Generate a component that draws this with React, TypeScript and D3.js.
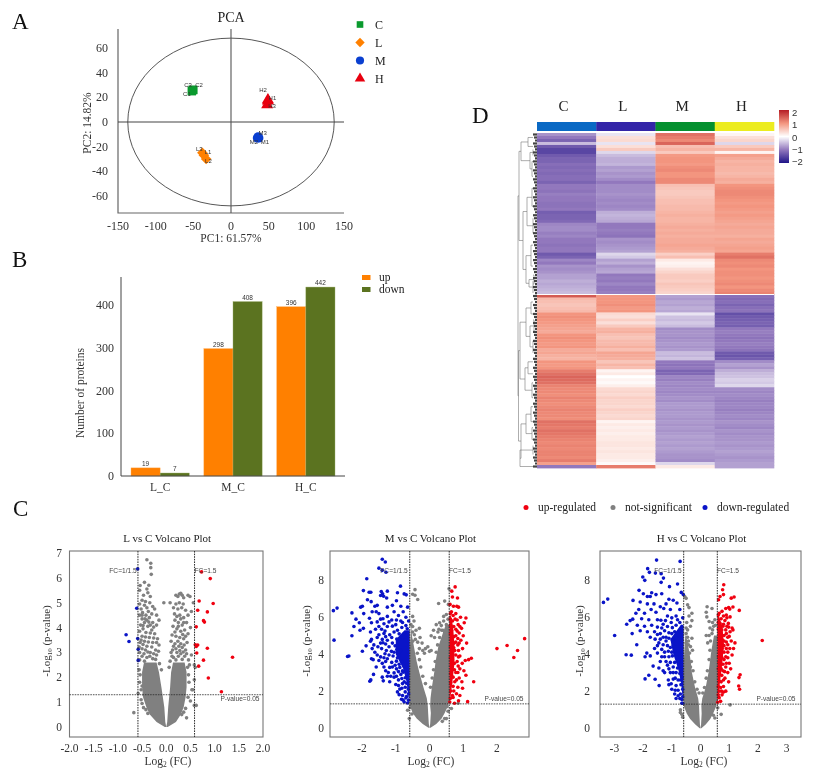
import React from "react";
import * as d3 from "d3";

const SERIF = "'Liberation Serif', serif";
const SANS = "'Liberation Sans', sans-serif";

// ---------- PCA ----------
const pcaGroups = ["C", "L", "M", "H"];
const pcaColors = ["#0a9a2e", "#ff8000", "#0a3fd0", "#e8000f"];
const pcaSamples: [string, number, number, number, number, number][] = [
  ["C1", -52, 25, -58.5, 22.7, 0], ["C2", -50, 26, -42.5, 30, 0], ["C3", -51, 26, -57, 30, 0],
  ["L1", -36, -27, -30.5, -24, 1], ["L2", -33, -30, -30, -32, 1], ["L3", -38, -25, -42, -22, 1],
  ["M1", 37, -13, 45, -16.5, 2], ["M2", 35, -13, 30.5, -16.5, 2], ["M3", 36, -12, 42, -9, 2],
  ["H1", 49, 18, 55, 19.5, 3], ["H2", 49, 17, 42.5, 26, 3], ["H3", 48, 14, 54.5, 13, 3],
];
const pcaXTicks = [-150, -100, -50, 0, 50, 100, 150];
const pcaYTicks = [-60, -40, -20, 0, 20, 40, 60];
const pcaEllipse = [137, 68];

// ---------- Bars ----------
const barCats = ["L_C", "M_C", "H_C"];
const barUp = [19, 298, 396];
const barDown = [7, 408, 442];
const barTicks = [0, 100, 200, 300, 400];

// ---------- Heatmap ----------
const heatCols = ["C", "L", "M", "H"];
const heatColColors = ["#0a69c4", "#3325a8", "#05902f", "#ecec20"];
const heatC = [-.8,-1,-1.2,-.5,-1.3,-1.5,-1.5,-1.3,-1.2,-1.2,-1.1,-1.15,-1.1,-1.15,-1.1,-1.1,-1.2,-1,-1,-1.05,-.95,-1,-1,-1.05,-1.05,-1,-1.25,-1.2,-1.2,-1.15,-.9,-.85,-.85,-.95,-.9,-1,-1,-1.05,-1,-1,-1.3,-1.2,-.9,-1,-.8,-.85,-.8,-.7,-.7,-.6,-.65,-.6,-.55,-.5,
1.5,.65,.6,.55,.6,.65,1,1.05,1,.95,.9,.85,.8,1,1.05,1,.95,1,.8,.85,.75,.7,1,.95,1,1.2,1.3,1.4,1.35,1.3,1.15,1.1,1.1,1.05,1.15,1.1,1.05,1.1,1.15,1.1,1.1,1.05,1.3,1.25,1.2,1.3,1.25,1.2,1.15,1.1,1.15,1.1,1.15,1.15,1.1,1.2,.9,-1];
const heatL = [-.2,.3,.35,-.2,.3,.5,-.3,-.5,-.6,-.6,-.55,-.75,-.7,-.8,-.75,-.85,-1,-.85,-.85,-.85,-.8,-.85,-.9,-.85,-.9,-.85,-.6,-.55,-.6,-.65,-1,-1,-.95,-1,-1.05,-.8,-.85,-.8,-.75,-.7,-.3,-.4,-.7,-.6,-.8,-.7,-.65,-1,-.95,-1,-.9,-1,-1,-.95,
1,1,1,1.05,.95,1,.35,.3,.45,.3,.5,.7,.75,.6,.55,.65,.65,.75,.6,.85,.8,.75,.55,.7,.6,.1,.2,0,.1,.05,.15,.35,.4,.35,.45,.4,.4,.35,.45,.4,.35,.4,.1,.2,.15,.2,.15,.2,.2,.25,.25,.2,.25,.2,.2,.15,.05,1.2];
const heatM = [1.3,1.2,1.1,1.4,.6,.7,.5,.95,1,1,.95,1.05,1.1,1,1,1.1,1.1,.6,.55,.5,.5,.55,.6,.6,.65,.65,.7,.75,.7,.7,.75,.8,.75,.8,.75,.8,.8,.85,.8,.75,.45,.6,.2,.1,.15,.3,.4,.5,.5,.45,.55,.5,.45,.4,
-.7,-.75,-.65,-.7,-.6,-.65,-.2,-.45,-.5,-.4,-.5,-.85,-.8,-.8,-.85,-.8,-.75,-.8,-.75,-.5,-.55,-.45,-1,-1.05,-1,-1.2,-1.15,-.9,-.95,-.85,-.9,-.85,-.9,-.85,-.8,-.85,-.75,-.75,-.8,-.75,-.75,-.8,-.75,-.8,-.75,-.8,-.75,-.7,-.75,-.7,-.75,-.7,-.75,-.8,-.8,-.85,-.3,.2];
const heatH = [.1,.3,.4,-.3,.5,.7,.1,.9,.8,.7,.75,.7,.7,.65,.7,.8,.75,1,1.05,1.1,1.1,1.05,1,.95,1,.95,.9,.95,.9,.85,.8,.85,.8,.8,.75,.85,.8,.85,.9,.85,1.2,1.3,1.1,1.05,1.1,1,1.05,1.05,1,1.05,1.1,1,1.1,1.15,
-1.1,-1.15,-1.1,-1.2,-1.1,-1.05,-1.4,-1.3,-1.25,-1.2,-1.25,-1,-.95,-1,-1.05,-1,-.95,-1,-1.05,-1.3,-1.35,-1.25,-.85,-.7,-.8,-.6,-.5,-.45,-.35,-.4,-.3,-.85,-.9,-.85,-.9,-.95,-.9,-.9,-.95,-.9,-.85,-.9,-.8,-.85,-.9,-.8,-.85,-.8,-.8,-.75,-.8,-.75,-.7,-.75,-.8,-.75,-.7,-.7];
const heatScaleTicks = [2, 1, 0, -1, -2];
type Tree = number | [number, Tree, Tree];
const heatTree: Tree = [19,
  [18, [16, [9, 1, 4], [7, [4, 5, 7], [5, 9, 14]]], [14, [10, [5, 18, 24], [4, 28, 33]], [11, [6, 37, 44], [8, [3, 47, 50], [4, 49, 53]]]]],
  [18.5, [17, [11, [6, 56, 60], [7, [3, 62, 66], [4, 69, 73]]], [12, [9, 76, 80], [5, 83, 88]]], [16, [11, [6, 91, 96], [5, 98, 102]], [17, [4, 104, 107], 111]]]];

// ---------- Volcano plots ----------
type Pt = [number, number];
const v1Up: Pt[] = [[.73,6.24],[.91,5.97],[.68,5.07],[.97,4.97],[.65,4.7],[.85,4.63],[.77,4.28],[.79,4.22],[.62,4.03],[.6,3.31],[.65,3.3],[.62,3.24],[.85,3.17],[.63,2.98],[1.37,2.81],[.77,2.69],[.67,2.45],[.87,1.97],[1.14,1.42]];
const v1Down: Pt[] = [[-.59,6.36],[-.61,4.78],[-.83,3.71],[-.77,3.44],[-.59,3.56],[-.58,3.13],[-.58,2.68]];
const v1Grey: Pt[] = [[-.4,6.73],[-.32,6.59],[-.32,6.41],[-.31,6.14],[-.45,5.82],[-.36,5.7],[-.54,5.69],[-.4,5.55],[-.55,5.5],[-.38,5.4],[-.47,5.3],[-.33,5.25],[-.5,5.1],[-.43,5.05],[-.34,5],[-.55,4.95],[-.45,4.9],[-.28,4.85],[-.52,4.75],[-.4,4.8],[-.24,4.75],[-.49,4.6],[-.37,4.65],[-.55,4.5],[-.42,4.5],[-.3,4.55],[-.2,4.5],[-.5,4.35],[-.35,4.4],[-.15,4.3],[-.45,4.2],[-.28,4.2],[-.53,4.1],[-.38,4.05],[-.2,4.1],[-.48,3.95],[-.3,3.9],[-.55,3.85],[-.42,3.8],[-.24,3.75],[-.5,3.65],[-.35,3.6],[-.18,3.55],[-.45,3.45],[-.28,3.4],[-.54,3.4],[-.15,3.3],[-.4,3.25],[-.5,3.15],[-.22,3.1],[-.33,3],[-.46,2.95],[-.55,3],[-.2,2.9],[-.28,2.75],[-.4,2.8],
[-.44,4.35],[-.36,4.22],[-.26,4.02],[-.48,4.08],[-.33,3.78],[-.43,3.62],[-.26,3.58],[-.52,3.5],[-.37,3.42],[-.2,3.4],[-.48,3.32],[-.3,3.22],[-.43,3.1],[-.56,3.22],[-.26,2.95],[-.38,3.02],[-.5,2.85],[-.34,2.85],[-.55,2.7],[-.45,2.65],[-.22,2.72],[-.16,3.05],[-.33,4.1],[-.4,4.3],[-.5,4.5],
[.27,5.35],[.3,5.38],[.33,5.3],[.2,5.3],[.24,5.25],[.36,5.2],[.45,5.3],[.49,5.25],[.08,5],[.2,4.95],[.27,5],[.35,4.95],[.56,5],[.15,4.8],[.24,4.75],[.32,4.8],[.4,4.7],[.52,4.65],[.17,4.55],[.28,4.5],[.36,4.4],[.45,4.5],[.18,4.3],[.25,4.2],[.33,4.1],[.42,4.2],[.5,4],[.14,4.05],[.22,3.95],[.3,3.85],[.38,3.9],[.45,3.75],[.12,3.7],[.2,3.65],[.28,3.6],[.36,3.55],[.43,3.4],[.1,3.45],[.18,3.35],[.26,3.25],[.33,3.2],[.4,3.1],[.13,3.1],[.22,3],[.3,2.95],[.38,2.85],[.52,2.9],[.58,2.5],[.6,2.4],[.58,1.9],[.53,1.5],[.55,1.5],[.58,.87],[.62,.87],[.15,2.8],[.46,2.7],
[.22,4.45],[.3,4.35],[.36,4.2],[.25,4.05],[.18,3.82],[.34,3.72],[.4,3.65],[.24,3.45],[.3,3.35],[.15,3.25],[.37,3.3],[.2,3.15],[.28,3.08],[.35,3.02],[.1,3.0],[.25,2.85],[.42,2.95],[.2,2.7],[.33,2.72],[.48,2.5],[.44,2.4],[.12,2.85],
[-.67,.58],[.42,.37],[-.58,1.35],[-.52,1.1],[-.5,.95],[-.47,.78],[.45,1.2],[.4,.75],[.5,1.05],[-.56,2.3],[-.55,1.8],[-.05,5],
[-.1,2.3],[-.14,2.55],[-.46,1.3],[-.42,.7],[-.38,.55],[.36,.6],[.32,.5],[-.5,1.65],[.47,1.8],[.46,2.1],[-.54,2.1],[-.52,1.5],[.06,2.4],[.08,2.65]];
const v1Levels = [0, .2, .5, .8, 1.2, 1.6, 2.2, 2.6];
const v1LeftOuter = [-.03, -.2, -.34, -.41, -.48, -.5, -.5, -.46];
const v1LeftInner = [0, -.02, -.03, -.04, -.07, -.1, -.15, -.2];
const v1RightInner = [0, .02, .03, .04, .06, .08, .1, .14];
const v1RightOuter = [.03, .2, .3, .36, .4, .42, .42, .38];

const v2Up: Pt[] = [[.76,7.65],[.66,7.42],[.68,7.1],[.83,7.05],[.61,6.7],[.71,6.6],[.81,6.6],[.86,6.55],[.65,6.3],[.92,6],[1.08,5.96],[.76,5.9],[.62,5.9],[1.03,5.7],[.85,5.6],[.72,5.5],[.95,5.4],[.65,5.3],[.88,5.15],[1,5],[.78,5],[.93,4.75],[1.1,4.6],[.84,4.5],[.98,4.3],[.75,4.2],[1.24,3.78],[1.16,3.7],[1.06,3.65],[.9,3.9],[.97,3.5],[.82,3.6],[.9,3.2],[1.02,3.1],[.78,3],[1.08,2.85],[.88,2.7],[.96,2.5],[1.31,2.5],[.75,2.5],[.84,2.2],[.98,2.15],[.72,2],[.8,1.85],[.9,1.75],[.7,1.65],[1.13,1.42],[.86,1.47],[.74,1.33],[.6,1.4],[.68,3.7],[.73,4.6],[.82,5.25],[.7,6.1],
[.62,6.2],[.78,6.2],[.68,5.8],[.82,5.85],[.62,5.55],[.78,5.35],[.9,5.5],[.62,5.1],[.72,4.95],[.84,4.85],[.65,4.75],[.78,4.65],[.88,4.6],[.62,4.4],[.72,4.35],[.86,4.2],[.66,4.05],[.78,3.95],[.86,3.85],[.62,3.8],[.74,3.5],[.85,3.35],[.65,3.3],[.74,3.15],[.84,3],[.63,2.95],[.7,2.75],[.8,2.6],[.63,2.45],[.7,2.25],[.63,2],[.68,1.75],[.62,1.6],
[2,4.3],[2.3,4.47],[2.61,4.2],[2.5,3.82],[2.82,4.84]];
const v2Down: Pt[] = [[-1.4,9.15],[-1.31,9],[-1.5,8.67],[-1.4,8.55],[-1.29,8.45],[-1.86,8.09],[-.86,7.69],[-1.96,7.45],[-1.79,7.36],[-1.74,7.36],[-1.43,7.4],[-1.25,7.42],[-1.39,7.28],[-1.45,7.18],[-1.36,7.14],[-1.27,7.05],[-.95,7.33],[-.75,7.27],[-.69,7.22],[-.98,6.9],[-1.84,6.95],[-1.73,6.85],[-1.62,6.6],[-2.85,6.36],[-2.74,6.5],[-2.3,6.24],[-2.04,6.55],[-1.99,6.6],[-1.55,6.65],[-1.1,6.65],[-.85,6.6],[-1.25,6.55],[-.65,6.55],[-1.95,6.2],[-1.7,6.3],[-1.5,6.2],[-1.58,6.3],[-1.05,6.3],[-.78,6.3],[-2.18,5.9],[-2.08,5.7],[-1.78,5.95],[-1.45,5.9],[-1.25,6.05],[-.92,6.1],[-.7,6],[-2.24,5.5],[-1.72,5.7],[-1.55,5.75],[-1.35,5.65],[-1.12,5.85],[-.85,5.8],[-2.3,5],[-2.83,4.76],[-2.06,5.3],[-1.96,5.4],[-1.75,5.2],[-1.6,5.35],[-1.42,5.35],[-1.25,5.5],[-1,5.6],[-.7,5.55],[-1.88,4.45],[-1.99,4.16],[-1.72,4.8],[-1.55,4.9],[-1.4,4.8],[-1.75,4.7],[-2.43,3.87],[-2.39,3.9],[-1.53,4.4],[-1.62,4.1],[-1.42,4.3],[-1.72,3.75],[-1.67,3.7],[-1.55,3.95],[-1.35,3.8],[-1.4,3.5],[-1.25,3.75],[-1.58,3.3],[-1.66,2.9],[-1.74,2.6],[-1.77,2.53],[-1.4,2.75],[-1.37,2.55],[-1.3,3.1],[-1.15,2.8],[-1.25,2.8],[-1.05,2.75],[-1.1,3.3],[-.98,3.2],[-1,2.35],[-.92,2.6],[-.85,2.9],[-.88,2.1],[-.95,1.95],[-.8,1.75],[-.83,1.55],[-.75,2.5],[-.72,1.95],[-.75,1.4],[-.65,1.35],[-.68,1.7],[-1.1,4.6],[-1.2,4.4],[-1.3,4.95],[-1.05,4.1],[-.95,3.8],[-.9,3.45],[-.8,3.1],
[-.62,5.8],[-.8,5.72],[-.98,5.85],[-1.2,5.75],[-1.38,5.92],[-.66,5.38],[-.82,5.45],[-.95,5.3],[-1.1,5.52],[-1.32,5.25],[-1.5,5.5],[-.75,5.12],[-.9,5.1],[-1.05,5.2],[-1.18,5.05],[-1.35,5.12],[-1.5,5.05],[-.8,4.88],[-.97,4.82],[-1.12,4.9],[-1.25,4.75],[-1.38,4.62],[-.95,4.5],[-1.02,4.45],[-1.3,4.55],[-1.45,4.6],[-1.65,4.5],[-.85,4.2],[-.97,4.25],[-1.13,4.15],[-1.28,4.2],[-1.7,4.3],[-.9,3.95],[-1.08,3.9],[-1.2,3.95],[-1.32,4.02],[-1.45,3.85],[-.82,3.6],[-.98,3.62],[-1.12,3.55],[-1.3,3.6],[-1.5,3.65],[-.75,3.35],[-.88,3.28],[-1.02,3.4],[-1.18,3.28],[-1.35,3.3],[-.78,3.02],[-.92,3.05],[-1.05,2.98],[-1.22,3],[-.72,2.72],[-.82,2.68],[-.98,2.8],[-1.18,2.5],[-.68,2.42],[-.8,2.4],[-.92,2.3],[-.63,2.1],[-.72,2.2],[-.82,2.15],[-.62,1.85],[-.7,1.62],[-.9,1.8],[-.62,1.5],[-.78,1.5]];
const v2Grey: Pt[] = [[-.43,7.5],[-.5,7.25],[-.43,7.2],[-.35,6.97],[-.5,6.05],[.27,6.75],[.45,6.88],[.56,6.7],[.58,7.55],[.5,6.15],[.42,6.05],[.3,5.7],[.2,5.6],[.35,5.55],[.12,5.3],[.25,5.2],[.4,5.3],[.05,5],[.15,4.9],[-.3,5.4],[-.4,5.3],[-.5,5.5],[-.55,5.6],[-.45,5.05],[-.28,4.9],[-.22,4.6],[-.35,4.65],[-.15,4.05],[-.12,4.3],[-.2,4.2],[-.3,4.3],[-.05,4.4],[0,4.15],[.05,4.2],[-.65,.95],[-.6,.5],[.55,.9],[.5,.5],[.45,.5],[.65,1.05],[.85,1.33],
[-.5,5.2],[-.42,4.8],[-.5,4.7],[-.36,4.05],[-.3,3.7],[-.26,3.3],[-.2,2.8],[-.12,2.4],[-.46,5.8],[.5,5.6],[.45,5.2],[.3,4.9],[.24,4.5],[.2,4.1],[.17,3.6],[.12,3.15],[.08,2.7],[.03,2.2],[.42,5.8],[.36,5.3],[.55,5.9],[.28,5.35],[-.58,1.1],[-.52,.75],[.52,1.15],[.38,.35]];
const v2Levels = [0, .2, .5, .8, 1.2, 1.6, 2.2, 3, 3.6, 4.4, 5, 5.6];
const v2LeftOuter = [-.03, -.2, -.38, -.5, -.58, -.585, -.585, -.585, -.58, -.58, -.56, -.55];
const v2LeftInner = [0, -.02, -.03, -.04, -.05, -.08, -.18, -.3, -.38, -.46, -.52, -.54];
const v2RightInner = [0, .02, .03, .04, .02, .03, .07, .14, .18, .26, .37, .48];
const v2RightOuter = [.03, .2, .36, .45, .55, .585, .585, .585, .585, .585, .585, .585];
const v2DownLevels = [1.6, 2.5, 3.2, 4, 4.8, 5.3];
const v2DownOuter = [-.62, -.68, -.78, -1, -1, -.74];
const v2UpLevels = [1.5, 2.5, 3.5, 4.5, 5.5, 6.1];
const v2UpOuter = [.61, .68, .74, .74, .7, .63];

const v3Up: Pt[] = [[.81,7.73],[.77,7.46],[.63,6.92],[.8,7.2],[1.07,7.01],[1.17,7.07],[.68,7.1],[1.35,6.35],[1.13,6.53],[.98,6.5],[1.02,6.42],[.88,6.45],[.75,6.3],[.65,6.2],[.9,6.1],[1.03,6],[.72,5.9],[.85,5.8],[.62,5.7],[.97,5.65],[1.1,5.4],[.78,5.5],[.88,5.3],[1.03,5.2],[1.13,5.3],[.72,5.1],[1.2,4.6],[.95,4.9],[1.07,4.7],[.82,4.7],[1.15,4.3],[1.02,4.3],[.9,4.3],[.75,4.3],[1.1,3.95],[.95,3.8],[.82,3.7],[1,3.5],[.7,3.5],[.88,3.3],[1.05,3.2],[.78,3.1],[.95,3],[1.38,2.88],[1.34,2.73],[1.33,2.28],[1.36,2.1],[.85,2.7],[.72,2.5],[.98,2.5],[.8,2.25],[.65,2],[.88,2],[.75,1.8],[.65,1.65],[.7,1.45],[.6,1.4],
[.62,6.1],[.8,6.05],[.92,5.95],[.68,5.65],[.8,5.6],[.92,5.5],[.62,5.35],[.74,5.3],[.98,5.45],[.82,5],[.9,5.1],[1,4.95],[.65,4.85],[.76,4.75],[.9,4.65],[.65,4.5],[.82,4.45],[.95,4.5],[.68,4.1],[.82,4.1],[.95,4.1],[.63,3.85],[.75,3.8],[.88,3.85],[.65,3.55],[.78,3.45],[.9,3.5],[.62,3.2],[.72,3.2],[.84,3.05],[.65,2.9],[.74,2.85],[.65,2.55],[.8,2.6],[.7,2.2],[.62,2.25],[.73,2],[.62,1.8],[.8,1.95],
[2.15,4.73]];
const v3Down: Pt[] = [[-1.53,9.06],[-.71,8.99],[-1.84,8.6],[-1.78,8.4],[-1.57,8.36],[-1.37,8.33],[-1.29,8.09],[-2.01,8.15],[-1.94,7.97],[-1.37,7.86],[-.8,7.77],[-1.08,7.63],[-2.14,7.43],[-.67,7.32],[-.6,7.2],[-1.99,7.25],[-1.7,7.3],[-1.55,7.2],[-1.35,7.25],[-3.23,6.96],[-3.38,6.78],[-2.35,6.89],[-1.85,7.1],[-1.75,7.1],[-1.1,6.95],[-.95,6.9],[-2.1,6.8],[-1.85,6.7],[-1.62,6.7],[-1.4,6.55],[-1.2,6.7],[-.82,6.75],[-2.15,6.4],[-2.25,6.2],[-1.95,6.2],[-1.72,6.4],[-1.55,6.25],[-1.28,6.45],[-1.05,6.4],[-.72,6.4],[-2.36,5.88],[-2.45,5.8],[-2.05,5.9],[-1.8,5.85],[-1.5,5.85],[-1.15,6.05],[-.85,6.05],[-2.57,5.6],[-2.2,5.55],[-1.95,5.5],[-1.7,5.55],[-1.5,5.45],[-1.3,5.6],[-1.02,5.7],[-.72,5.7],[-2.38,5.1],[-2.99,5],[-2.1,5.25],[-1.85,5.2],[-1.6,5.2],[-1.4,5.1],[-2.22,4.5],[-1.75,4.9],[-1.58,4.8],[-1.45,4.6],[-1.3,4.9],[-2.59,3.96],[-2.41,3.94],[-1.87,4.05],[-1.93,3.85],[-1.6,4.3],[-1.5,4.05],[-1.35,4.25],[-1.75,3.9],[-1.65,3.35],[-1.4,3.6],[-1.25,3.85],[-1.45,3.25],[-1.3,3.1],[-1.93,2.66],[-1.8,2.86],[-1.58,2.64],[-1.44,2.3],[-1.25,3],[-1.1,3.2],[-1.12,2.6],[-1.1,2.35],[-.95,3],[-.88,2.7],[-1,2.1],[-.85,2.3],[-.9,1.85],[-.78,2.05],[-.85,1.6],[-.72,1.6],[-.65,1.35],[-.62,1.35],[-.7,2.6],[-1.2,4.9],[-1.15,4.45],[-1,5.1],[-.78,5],[-.98,3.9],[-1.05,3.55],[-.8,3.25],
[-.62,5.95],[-.8,5.85],[-1,5.95],[-1.22,5.8],[-1.38,5.82],[-.65,5.5],[-.85,5.55],[-.98,5.42],[-1.15,5.48],[-1.35,5.4],[-.7,5.22],[-.9,5.2],[-1.1,5.15],[-1.25,5.25],[-1.5,5.05],[-.85,4.85],[-.98,4.75],[-1.1,4.85],[-1.2,4.7],[-1.4,4.8],[-.95,4.45],[-1.05,4.35],[-1.3,4.5],[-1.5,4.45],[-.9,4.15],[-1,4.1],[-1.12,4.15],[-1.25,4.1],[-.82,3.85],[-1.1,3.85],[-1.2,3.6],[-1.35,3.85],[-.9,3.55],[-.75,3.55],[-1.15,3.4],[-.95,3.3],[-.7,3.2],[-1.05,3],[-.85,3],[-.72,2.95],[-.95,2.65],[-.78,2.6],[-.64,2.75],[-1.02,2.4],[-.88,2.05],[-.68,2.35],[-.62,2.1],[-.7,1.85],[-.62,1.7],[-.78,1.75],[-.65,1.55]];
const v3Grey: Pt[] = [[-.55,7.1],[-.5,7],[-.45,6.65],[-.4,6.5],[-.3,6.2],[-.4,6.05],[.23,6.55],[.4,6.45],[.2,6.25],[.22,6],[.5,5.85],[.42,5.7],[.3,5.75],[-.3,5.8],[-.48,5.7],[-.35,5.5],[-.5,5.4],[.33,5.4],[.42,5.3],[.2,5],[.3,5],[.25,4.6],[-.45,4.9],[-.3,4.85],[-.35,4.4],[-.28,4.2],[-.42,4.5],[1.03,1.26],[.72,.75],[.5,.55],[.45,.7],[.6,1.1],[-.7,1],[-.65,.75],[-.62,.6],[-.7,.85],
[-.5,5.1],[-.42,4.7],[-.5,4.6],[-.38,4.05],[-.32,3.6],[-.26,3.1],[-.2,2.5],[-.12,2.1],[.46,5.5],[.4,5.1],[.35,4.7],[.33,4.2],[.3,3.7],[.24,3.1],[.2,2.7],[.14,2.2],[.08,1.9],[-.05,1.9],[-.35,3.3],[-.45,5.3],[.52,5.55]];
const v3Levels = [0, .2, .5, .8, 1.2, 1.6, 2.2, 3, 3.6, 4.2, 5];
const v3LeftOuter = [-.03, -.18, -.36, -.48, -.58, -.585, -.585, -.585, -.58, -.56, -.53];
const v3LeftInner = [0, -.02, -.03, -.04, -.05, -.08, -.19, -.3, -.34, -.4, -.5];
const v3RightInner = [0, .02, .03, .04, .03, .06, .18, .28, .33, .38, .47];
const v3RightOuter = [.03, .18, .34, .44, .55, .585, .585, .585, .585, .585, .585];
const v3DownLevels = [1.6, 2.5, 3.2, 4, 4.8, 5.5];
const v3DownOuter = [-.62, -.68, -.78, -.95, -1.05, -.72];
const v3UpLevels = [1.5, 2.5, 3.5, 4.5, 5.5, 6.1];
const v3UpOuter = [.61, .68, .76, .82, .76, .63];

const volcanoLegend = ["up-regulated", "not-significant", "down-regulated"];
const volcanoColors = ["#f00010", "#808080", "#0a14c8"];

const DARK = "#2a2a2a";
const TICK = "#333";

function Letter({ x, y, t }: { x: number; y: number; t: string }) {
  return <text x={x} y={y} fontFamily={SERIF} fontSize={23} fill="#111">{t}</text>;
}

function Pca() {
  const x = d3.scaleLinear().domain([-150, 150]).range([118, 344]);
  const y = d3.scaleLinear().domain([-60, 60]).range([196, 48]);
  const sym = [d3.symbolSquare, d3.symbolSquare, d3.symbolCircle, d3.symbolTriangle];
  const rot = [0, 45, 0, 0];
  const path = (g: number, s: number) => d3.symbol().type(sym[g]).size(s)() as string;
  const sizes = [72, 56, 66, 62];
  const legendSizes = [44, 44, 52, 48];
  return (
    <g fontFamily={SERIF}>
      <text x={231} y={22} textAnchor="middle" fontSize={14} fill="#222">PCA</text>
      <ellipse cx={x(0)} cy={y(0)} rx={x(pcaEllipse[0]) - x(0)} ry={y(0) - y(pcaEllipse[1])} fill="none" stroke="#444" strokeWidth={0.9} />
      <path d="M118 29V213H344" fill="none" stroke="#666" strokeWidth={1.2} />
      <line x1={118} x2={344} y1={y(0)} y2={y(0)} stroke="#444" strokeWidth={1.1} />
      <line x1={x(0)} x2={x(0)} y1={29} y2={213} stroke="#555" strokeWidth={1.1} />
      {pcaXTicks.map(t => <text key={t} x={x(t)} y={230} textAnchor="middle" fontSize={12} fill={TICK}>{t}</text>)}
      {pcaYTicks.map(t => <text key={t} x={108} y={y(t) + 4} textAnchor="end" fontSize={12} fill={TICK}>{t}</text>)}
      <text x={231} y={242} textAnchor="middle" fontSize={11.5} fill={TICK}>PC1: 61.57%</text>
      <text transform="translate(91,123) rotate(-90)" textAnchor="middle" fontSize={11.5} fill={TICK}>PC2: 14.82%</text>
      {pcaSamples.map(s => <path key={s[0]} d={path(s[5], sizes[s[5]])} transform={`translate(${x(s[1])},${y(s[2])}) rotate(${rot[s[5]]})`} fill={pcaColors[s[5]]} />)}
      {pcaSamples.map(s => <text key={s[0]} x={x(s[3])} y={y(s[4]) + 2} textAnchor="middle" fontFamily={SANS} fontSize={6} fill="#333">{s[0]}</text>)}
      {pcaGroups.map((g, i) => (
        <g key={g}>
          <path d={path(i, legendSizes[i])} transform={`translate(360,${24.5 + i * 18}) rotate(${rot[i]})`} fill={pcaColors[i]} />
          <text x={375} y={29 + i * 18} fontSize={12} fill="#222">{g}</text>
        </g>
      ))}
    </g>
  );
}

function Bars() {
  const x0 = d3.scaleBand().domain(barCats).range([131, 335]).paddingInner(0.2).paddingOuter(0);
  const y = d3.scaleLinear().domain([0, 400]).range([476, 305]);
  const w = x0.bandwidth() / 2;
  const bar = (v: number, cx: number, color: string, edge: string) => (
    <g key={cx + color}>
      <rect x={cx} y={y(v)} width={w} height={476 - y(v)} fill={color} stroke={edge} strokeWidth={0.4} />
      <text x={cx + w / 2} y={y(v) - 2} textAnchor="middle" fontFamily={SANS} fontSize={6.5} fill="#333">{v}</text>
    </g>
  );
  return (
    <g fontFamily={SERIF}>
      {barCats.map((c, i) => bar(barUp[i], x0(c)!, "#ff8000", "#ffb060"))}
      {barCats.map((c, i) => bar(barDown[i], x0(c)! + w, "#5b7320", "#9db070"))}
      <path d="M121 277V476H345" fill="none" stroke="#444" strokeWidth={1} />
      {barTicks.map(t => <text key={t} x={114} y={y(t) + 4} textAnchor="end" fontSize={12} fill={TICK}>{t}</text>)}
      {barCats.map(c => <text key={c} x={x0(c)! + w} y={491} textAnchor="middle" fontSize={11.5} fill={TICK}>{c}</text>)}
      <text transform="translate(84,393) rotate(-90)" textAnchor="middle" fontSize={11.5} fill={TICK}>Number of proteins</text>
      <rect x={362} y={275} width={8.5} height={5} fill="#ff8000" />
      <rect x={362} y={287} width={8.5} height={5} fill="#5b7320" />
      <text x={379} y={281} fontSize={11.5} fill="#222">up</text>
      <text x={379} y={293} fontSize={11.5} fill="#222">down</text>
    </g>
  );
}

function Heat() {
  const cols = d3.scaleBand().domain(heatCols).range([537, 774]);
  const rows = d3.scaleBand<number>().domain(d3.range(heatC.length)).range([133, 468]);
  const color = d3.scaleLinear<string>().domain([-2, -1, 0, 1, 2]).range(["#1f1488", "#9278bd", "#ffffff", "#f3957f", "#b51c24"]);
  const series = [heatC, heatL, heatM, heatH];
  const h = d3.scaleLinear().domain([0, 19]).range([537, 518]);
  const cb = d3.scaleLinear().domain([2, -2]).range([112, 161]);
  const links: string[] = [];
  const walk = (n: Tree): number => {
    if (typeof n === "number") return rows(n)! + rows.bandwidth() / 2;
    const [ht, a, b] = n;
    const ya = walk(a), yb = walk(b);
    const xa = typeof a === "number" ? 533 : h(a[0]);
    const xb = typeof b === "number" ? 533 : h(b[0]);
    links.push(`M${xa} ${ya}H${h(ht)}V${yb}H${xb}`);
    return (ya + yb) / 2;
  };
  walk(heatTree);
  const stops = d3.range(0, 1.01, 0.125);
  return (
    <g>
      {heatCols.map((c, i) => (
        <g key={c}>
          <text x={cols(c)! + cols.bandwidth() / 2 - 3} y={111} textAnchor="middle" fontFamily={SERIF} fontSize={15} fill="#222">{c}</text>
          <rect x={cols(c)} y={122} width={cols.bandwidth() + 0.3} height={9} fill={heatColColors[i]} />
          {series[i].map((v, r) => <rect key={r} x={cols(c)} y={rows(r)} width={cols.bandwidth() + 0.3} height={rows.bandwidth() + 0.4} fill={color(v)} />)}
        </g>
      ))}
      <rect x={537} y={rows(54)! - 0.5} width={237} height={1} fill="#fff" />
      {links.map((d, i) => <path key={i} d={d} fill="none" stroke="#777" strokeWidth={0.6} />)}
      {heatC.map((_, r) => <line key={r} x1={533 + (r % 3)} x2={537} y1={rows(r)! + 1.5} y2={rows(r)! + 1.5} stroke="#444" strokeWidth={2.2} />)}
      <defs>
        <linearGradient id="cb" x1="0" x2="0" y1="0" y2="1">
          {stops.map(s => <stop key={s} offset={s} stopColor={color(2 - 4 * s)} />)}
        </linearGradient>
      </defs>
      <rect x={779} y={110} width={10} height={53} fill="url(#cb)" />
      {heatScaleTicks.map(t => <text key={t} x={792} y={cb(t) + 4} fontFamily={SANS} fontSize={9.5} fill="#333">{t < 0 ? "\u2212" + -t : t}</text>)}
    </g>
  );
}

interface VolcanoProps {
  title: string; box: [number, number]; xDom: [number, number]; yDom: [number, number];
  xTicks: number[]; yTicks: number[]; fmt: (n: number) => string;
  up: Pt[]; down: Pt[]; grey: Pt[];
  levels: number[]; lo: number[]; li: number[]; ri: number[]; ro: number[];
  downLevels?: number[]; downOuter?: number[]; upLevels?: number[]; upOuter?: number[];
  yLabelX: number; tickRight: number; fcLeft: number; fcRight: number; pX: number; labelX: number;
}

function Volcano(p: VolcanoProps) {
  const top = 551, bottom = 737;
  const x = d3.scaleLinear().domain(p.xDom).range(p.box);
  const y = d3.scaleLinear().domain(p.yDom).range([bottom, top]);
  const armArea = (lv: number[], a: number[], b: number[]) =>
    d3.area<number>().x0((_, i) => x(a[i])).x1((_, i) => x(b[i])).y(d => y(d))(lv) as string;
  const dot = (pts: Pt[], c: string) => pts.map((d, i) => <circle key={c + i} cx={x(d[0])} cy={y(d[1])} r={1.8} fill={c} />);
  const fc = 0.585;
  const cx = (p.box[0] + p.box[1]) / 2;
  return (
    <g fontFamily={SERIF}>
      <text x={cx + 1} y={541.5} textAnchor="middle" fontSize={11} fill="#222">{p.title}</text>
      <rect x={p.box[0]} y={top} width={p.box[1] - p.box[0]} height={bottom - top} fill="#fff" stroke="#777" strokeWidth={1.1} />
      <path d={armArea(p.levels, p.lo, p.li)} fill={volcanoColors[1]} />
      <path d={armArea(p.levels, p.ri, p.ro)} fill={volcanoColors[1]} />
      {dot(p.grey, volcanoColors[1])}
      {p.downLevels && <path d={armArea(p.downLevels, p.downOuter!, p.downLevels.map(() => -fc))} fill={volcanoColors[2]} />}
      {p.upLevels && <path d={armArea(p.upLevels, p.upLevels.map(() => fc), p.upOuter!)} fill={volcanoColors[0]} />}
      {dot(p.down, volcanoColors[2])}
      {dot(p.up, volcanoColors[0])}
      <line x1={x(-fc)} x2={x(-fc)} y1={top} y2={bottom} stroke={DARK} strokeWidth={1} strokeDasharray="1.6 1" />
      <line x1={x(fc)} x2={x(fc)} y1={top} y2={bottom} stroke={DARK} strokeWidth={1} strokeDasharray="1.6 1" />
      <line x1={p.box[0]} x2={p.box[1]} y1={y(1.3)} y2={y(1.3)} stroke={DARK} strokeWidth={0.8} strokeDasharray="1.6 1" />
      <g fontFamily={SANS} fontSize={6.6} fill="#444">
        <text x={p.fcLeft} y={572.5} textAnchor="middle">FC=1/1.5</text>
        <text x={p.fcRight} y={572.5} textAnchor="middle">FC=1.5</text>
        <text x={p.pX} y={701} textAnchor="middle">P-value=0.05</text>
      </g>
      {p.xTicks.map(t => <text key={t} x={x(t)} y={752} textAnchor="middle" fontSize={11.5} fill={TICK}>{p.fmt(t)}</text>)}
      {p.yTicks.map(t => <text key={t} x={p.tickRight} y={y(t) + 4} textAnchor="end" fontSize={11.5} fill={TICK}>{t}</text>)}
      <text x={p.labelX} y={765} textAnchor="middle" fontSize={11.5} fill={TICK}>Log<tspan fontSize={7.5} dy={2}>2</tspan><tspan dy={-2}> (FC)</tspan></text>
      <text transform={`translate(${p.yLabelX},641) rotate(-90)`} textAnchor="middle" fontSize={11} fill={TICK}>-Log<tspan fontSize={7} dy={2}>10</tspan><tspan dy={-2}> (p-value)</tspan></text>
    </g>
  );
}

export default function App() {
  return (
    <svg width={829} height={776} viewBox="0 0 829 776" style={{ position: "absolute", left: 0, top: 0, filter: "blur(0.35px)" }}>
      <rect width={829} height={776} fill="#fff" />
      <Letter x={12} y={29} t="A" />
      <Letter x={12} y={267} t="B" />
      <Letter x={13} y={516} t="C" />
      <Letter x={472} y={123} t="D" />
      <Pca />
      <Bars />
      <Heat />
      {volcanoLegend.map((t, i) => {
        const dx = [526, 613, 705][i];
        return (
          <g key={t}>
            <circle cx={dx} cy={507.5} r={2.5} fill={volcanoColors[i]} />
            <text x={dx + 12} y={511} fontFamily={SERIF} fontSize={11.5} fill="#222">{t}</text>
          </g>
        );
      })}
      <Volcano title="L vs C Volcano Plot" box={[69.5, 263]} xDom={[-2, 2]} yDom={[-0.4, 7.08]}
        xTicks={[-2, -1.5, -1, -0.5, 0, 0.5, 1, 1.5, 2]} yTicks={[0, 1, 2, 3, 4, 5, 6, 7]} fmt={n => n.toFixed(1)}
        up={v1Up} down={v1Down} grey={v1Grey} levels={v1Levels} lo={v1LeftOuter} li={v1LeftInner} ri={v1RightInner} ro={v1RightOuter}
        yLabelX={50} tickRight={62} fcLeft={123} fcRight={205.5} pX={240} labelX={168} />
      <Volcano title="M vs C Volcano Plot" box={[330, 529]} xDom={[-2.95, 2.95]} yDom={[-0.5, 9.6]}
        xTicks={[-2, -1, 0, 1, 2]} yTicks={[0, 2, 4, 6, 8]} fmt={n => String(n)}
        up={v2Up} down={v2Down} grey={v2Grey} levels={v2Levels} lo={v2LeftOuter} li={v2LeftInner} ri={v2RightInner} ro={v2RightOuter}
        downLevels={v2DownLevels} downOuter={v2DownOuter} upLevels={v2UpLevels} upOuter={v2UpOuter}
        yLabelX={310} tickRight={324} fcLeft={394} fcRight={460} pX={504} labelX={431} />
      <Volcano title="H vs C Volcano Plot" box={[600, 801]} xDom={[-3.5, 3.5]} yDom={[-0.47, 9.55]}
        xTicks={[-3, -2, -1, 0, 1, 2, 3]} yTicks={[0, 2, 4, 6, 8]} fmt={n => String(n)}
        up={v3Up} down={v3Down} grey={v3Grey} levels={v3Levels} lo={v3LeftOuter} li={v3LeftInner} ri={v3RightInner} ro={v3RightOuter}
        downLevels={v3DownLevels} downOuter={v3DownOuter} upLevels={v3UpLevels} upOuter={v3UpOuter}
        yLabelX={583} tickRight={590} fcLeft={668} fcRight={728} pX={776} labelX={704} />
    </svg>
  );
}
